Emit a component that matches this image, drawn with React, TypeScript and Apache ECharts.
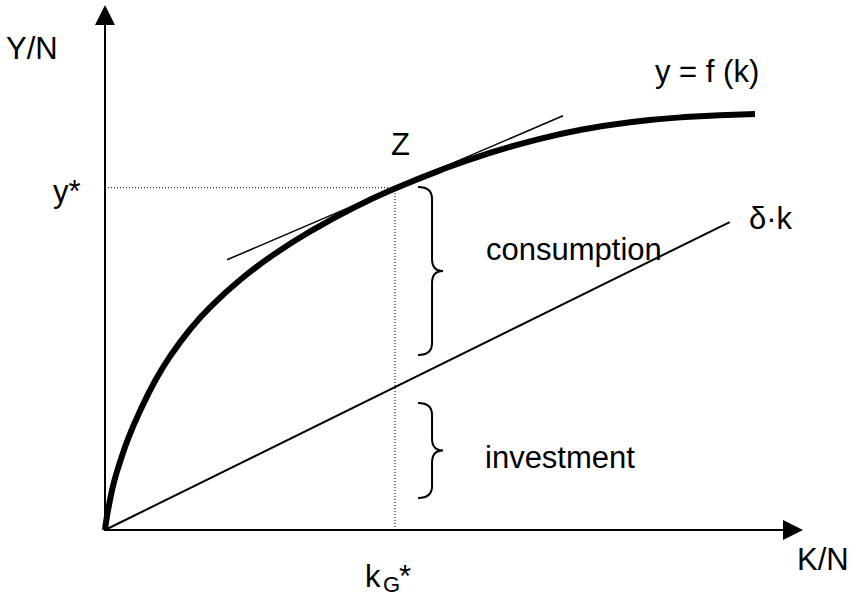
import React, { useEffect, useRef } from "react";
import * as echarts from "echarts";

// Production function y = f(k) (k, y units)
const fK = [
  0, 0.029, 0.073, 0.131, 0.218, 0.349, 0.509, 0.727, 0.945, 1.235, 1.526,
  1.962, 2.471, 3.023, 3.634, 4.215, 4.869, 5.552, 6.25, 6.904, 7.631, 8.43,
  9.448,
];
const fY = [
  0, 0.204, 0.437, 0.699, 0.99, 1.363, 1.733, 2.17, 2.529, 2.92, 3.243,
  3.641, 4.024, 4.371, 4.703, 4.973, 5.238, 5.478, 5.679, 5.825, 5.939, 6.013,
  6.058,
];
// depreciation line δ·k
const deltaK = [0, 9.08];
const deltaY = [0, 4.485];
// tangent at Z
const tangentK = [1.773, 6.657];
const tangentY = [3.935, 6.033];
// steady state
const kStar = 4.215;
const yStar = 4.985;
// braces: [k position, top value, bottom value]
const braces: [number, number, number][] = [
  [4.55, 4.995, 2.548],
  [4.55, 1.849, 0.466],
];
const X_MAX = 10;
const Y_MAX = 7.5;

const FONT = '"Liberation Sans", Arial, sans-serif';

const zip = (a: number[], b: number[]) => a.map((v, i) => [v, b[i]]);

function txt(text: string, x: number, y: number, size = 31) {
  return {
    type: "text",
    x,
    y,
    silent: true,
    style: {
      text,
      fill: "#000",
      fontSize: size,
      fontFamily: FONT,
      align: "left",
      verticalAlign: "middle",
    },
  };
}

export default function App() {
  const ref = useRef<HTMLDivElement>(null);
  useEffect(() => {
    if (!ref.current) return;
    const chart = echarts.init(ref.current, null, { renderer: "svg" });
    const axisCommon = {
      type: "value",
      min: 0,
      axisTick: { show: false },
      axisLabel: { show: false },
      splitLine: { show: false },
      axisLine: {
        show: true,
        onZero: false,
        symbol: ["none", "triangle"],
        symbolSize: [20, 20],
        lineStyle: { color: "#000", width: 2 },
      },
    };
    chart.setOption({
      animation: false,
      backgroundColor: "#fff",
      grid: { left: 105, right: 61, top: 15, bottom: 72 },
      xAxis: { ...axisCommon, max: X_MAX },
      yAxis: { ...axisCommon, max: Y_MAX },
      series: [
        {
          type: "line",
          data: [[0, yStar], [kStar, yStar]],
          symbol: "none",
          lineStyle: { color: "#000", width: 1, type: [1, 2] },
          z: 1,
        },
        {
          type: "line",
          data: [[kStar, 0], [kStar, yStar]],
          symbol: "none",
          lineStyle: { color: "#000", width: 1, type: [1, 2] },
          z: 1,
        },
        {
          type: "line",
          data: zip(deltaK, deltaY),
          symbol: "none",
          lineStyle: { color: "#000", width: 2 },
          z: 2,
        },
        {
          type: "line",
          data: zip(tangentK, tangentY),
          symbol: "none",
          lineStyle: { color: "#000", width: 1.5 },
          z: 2,
        },
        {
          type: "line",
          data: zip(fK, fY),
          symbol: "none",
          smooth: 0.5,
          lineStyle: { color: "#000", width: 6, cap: "butt", join: "round" },
          z: 3,
        },
        {
          type: "custom",
          data: braces,
          encode: { x: 0, y: [1, 2] },
          renderItem: (params: any, api: any) => {
            const top = api.coord([api.value(0), api.value(1)]);
            const bot = api.coord([api.value(0), api.value(2)]);
            const L = top[0];
            const S = L + 14;
            const T = L + 25;
            const y0 = top[1];
            const y1 = bot[1];
            const m = (y0 + y1) / 2;
            const r = 12;
            const d =
              `M${L},${y0} Q${S},${y0} ${S},${y0 + r} L${S},${m - r} ` +
              `Q${S},${m} ${T},${m} Q${S},${m} ${S},${m + r} ` +
              `L${S},${y1 - r} Q${S},${y1} ${L},${y1}`;
            return {
              type: "path",
              shape: { pathData: d },
              style: { stroke: "#000", lineWidth: 2, fill: "none" },
            };
          },
          z: 2,
        },
      ],
      graphic: [
        txt("Y/N", 6, 48),
        txt("K/N", 797, 559),
        txt("Z", 391, 144),
        txt("y*", 53, 191),
        txt("k", 365, 576),
        txt("G", 383, 584, 22),
        txt("*", 399, 576),
        txt("δ·k", 749, 218),
        txt("y = f (k)", 655, 71),
        txt("consumption", 486, 249),
        txt("investment", 485, 457),
      ],
    });
    return () => chart.dispose();
  }, []);
  return (
    <div
      ref={ref}
      style={{ position: "absolute", left: 0, top: 0, width: 854, height: 602 }}
    />
  );
}
